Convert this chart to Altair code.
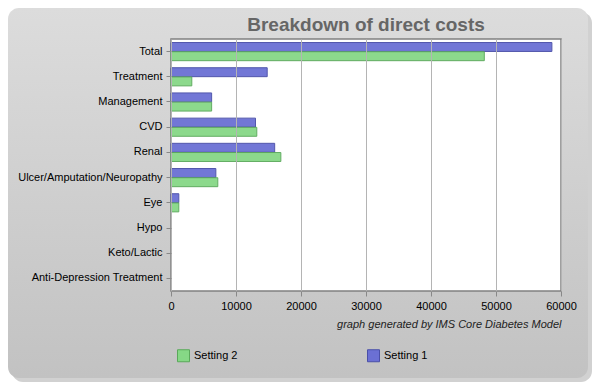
import altair as alt
import pandas as pd

categories = ["Total", "Treatment", "Management", "CVD", "Renal",
              "Ulcer/Amputation/Neuropathy", "Eye", "Hypo", "Keto/Lactic",
              "Anti-Depression Treatment"]
setting1 = [58600, 14800, 6250, 13000, 15950, 6900, 1200, 0, 0, 0]
setting2 = [48200, 3200, 6250, 13200, 16900, 7200, 1200, 0, 0, 0]
series_names = ["Setting 1", "Setting 2"]
legend_order = ["Setting 2", "Setting 1"]
colors = {"Setting 2": "#86d886", "Setting 1": "#6b70d4"}
strokes = {"Setting 2": "#5aa85a", "Setting 1": "#4a4fa8"}
title_text = "Breakdown of direct costs"

rows = []
for c, a, b in zip(categories, setting1, setting2):
    rows.append({"category": c, "series": "Setting 1", "value": a})
    rows.append({"category": c, "series": "Setting 2", "value": b})
df = pd.DataFrame(rows)

W, H = 390, 252
PL, PT = 163, 31
CW, CH = 584, 374

one = alt.Data(values=[{"k": 1}])

shadow = alt.Chart(one).mark_rect(
    color="#9a9a9a", opacity=0.45, cornerRadius=11
).encode(
    x=alt.value(-PL + 4), x2=alt.value(CW - PL),
    y=alt.value(-PT + 4), y2=alt.value(CH - PT),
)

panel = alt.Chart(one).mark_rect(
    color=alt.Gradient(
        gradient="linear",
        stops=[alt.GradientStop(color="#dcdcdc", offset=0),
               alt.GradientStop(color="#c2c2c2", offset=1)],
        x1=0, x2=0, y1=0, y2=1,
    ),
    cornerRadius=11,
).encode(
    x=alt.value(-PL), x2=alt.value(CW - PL - 4),
    y=alt.value(-PT), y2=alt.value(CH - PT - 4),
)

plotbg = alt.Chart(one).mark_rect(
    color="white", stroke="#808080", strokeWidth=1.5
).encode(
    x=alt.value(0), x2=alt.value(W), y=alt.value(0), y2=alt.value(H)
)

title = alt.Chart(alt.Data(values=[{"t": title_text}])).mark_text(
    fontSize=19, fontWeight="bold", color="#666666", font="Liberation Sans",
    align="center", baseline="alphabetic"
).encode(
    text="t:N", x=alt.value(W / 2), y=alt.value(-8)
)

bars = alt.Chart(df).transform_filter("datum.value > 0").mark_bar(
    strokeWidth=1, opacity=0.95
).encode(
    x=alt.X("value:Q",
            scale=alt.Scale(domain=[0, 60000], nice=False),
            axis=alt.Axis(values=[0, 10000, 20000, 30000, 40000, 50000, 60000],
                          format="d", grid=True, gridColor="#b4b4b4",
                          gridWidth=1, tickColor="#888888", tickSize=5,
                          domain=False, labelPadding=4, labelFontSize=11,
                          labelColor="#000000", labelFont="Liberation Sans",
                          title="graph generated by IMS Core Diabetes Model",
                          titleFontStyle="italic", titleFontWeight="normal",
                          titleFontSize=11, titleFont="Liberation Sans",
                          titleColor="#222222", titleAnchor="end",
                          titlePadding=7, labelFlush=False, zindex=1)),
    y=alt.Y("category:N", sort=categories,
            scale=alt.Scale(domain=categories, paddingInner=0.28,
                            paddingOuter=0.14),
            axis=alt.Axis(title=None, tickColor="#888888", tickSize=5,
                          domain=False, labelPadding=4, labelFontSize=11,
                          labelColor="#000000", labelFont="Liberation Sans",
                          labelLimit=200, zindex=1)),
    yOffset=alt.YOffset("series:N", sort=series_names,
                        scale=alt.Scale(domain=series_names, paddingInner=0.03)),
    color=alt.Color("series:N",
                    scale=alt.Scale(domain=legend_order,
                                    range=[colors[s] for s in legend_order]),
                    legend=alt.Legend(title=None, orient="none",
                                      direction="horizontal", columns=2,
                                      legendX=6, legendY=310,
                                      symbolType="square", symbolSize=144,
                                      symbolStrokeWidth=1,
                                      symbolStrokeColor="#555555",
                                      columnPadding=127, labelFontSize=11,
                                      labelFont="Liberation Sans",
                                      labelColor="#000000", labelOffset=4,
                                      symbolOpacity=1)),
    stroke=alt.Stroke("series:N",
                      scale=alt.Scale(domain=legend_order,
                                      range=[strokes[s] for s in legend_order]),
                      legend=None),
)

chart = alt.layer(shadow, panel, plotbg, bars, title).properties(
    width=W, height=H,
    autosize=alt.AutoSizeParams(type="none"),
    padding={"left": PL, "top": PT, "right": CW - PL - W, "bottom": CH - PT - H},
    background="white",
).configure_view(stroke=None)

chart.save("out.html", embed_options={"renderer": "svg", "actions": False})
